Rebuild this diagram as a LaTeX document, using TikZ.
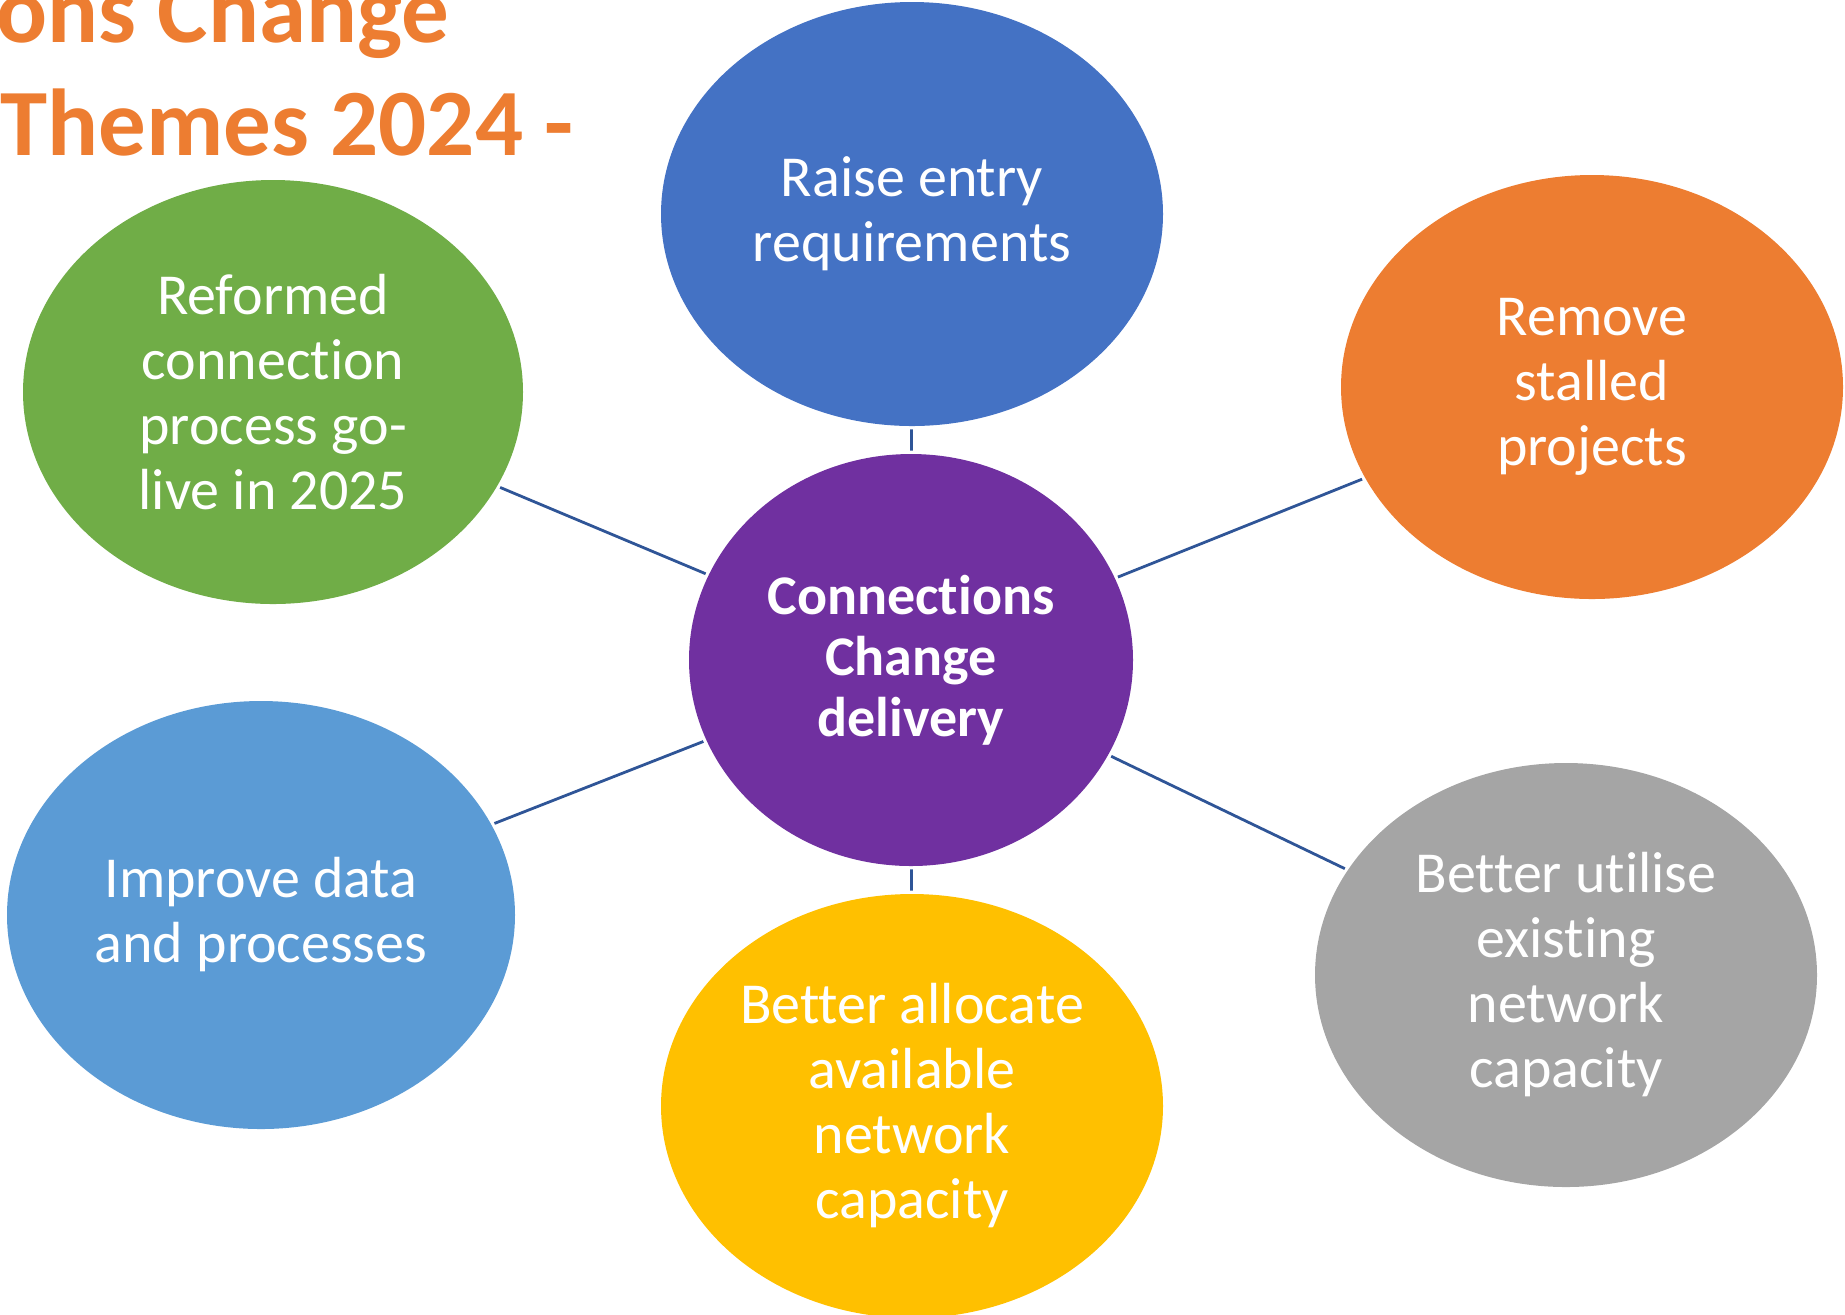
\documentclass[tikz,border=0pt]{standalone}
\usepackage{fontspec}
\setmainfont{Carlito}[Ligatures=NoCommon]
\usetikzlibrary{shapes.geometric}
\definecolor{accent}{HTML}{ED7D31}
\definecolor{hubpurple}{HTML}{7030A0}
\definecolor{darkblue}{HTML}{4472C4}
\definecolor{lightblue}{HTML}{5B9BD5}
\definecolor{leafgreen}{HTML}{70AD47}
\definecolor{amber}{HTML}{FFC000}
\definecolor{midgray}{HTML}{A5A5A5}
\definecolor{linkblue}{HTML}{2F5597}

\begin{document}
\begin{tikzpicture}[x=0.5pt,y=-0.5pt,
  theme/.style={ellipse,minimum width=251pt,minimum height=212pt,inner sep=0pt,
    text=white,align=center,font=\fontsize{29}{32.5}\selectfont},
  hub/.style={theme,minimum width=222pt,minimum height=206pt,
    font=\bfseries\fontsize{28}{30.5}\selectfont},
  link/.style={draw=linkblue,line width=1.4pt,shorten <=1.5pt,shorten >=1.5pt}]
 \useasboundingbox (0,0) rectangle (1845,1314);
 \clip (0,0) rectangle (1845,1314);
 % heading, runs off the page at the top left
 \node[anchor=base west,inner sep=0pt,text=accent,font=\bfseries\fontsize{47.5}{57}\selectfont] (head1) at (-4,42) {ons Change};
 \node[anchor=base west,inner sep=0pt,text=accent,font=\bfseries\fontsize{47.5}{57}\selectfont] (head2) at (0,155) {Themes 2024 -};
 % centre and the six themes
 \node[hub,fill=hubpurple] (hub) at (911,660) {Connections\\Change\\delivery};
 \node[theme,fill=darkblue] (entry) at (912,214) {Raise entry\\requirements};
 \node[theme,fill=leafgreen,minimum width=250pt] (reform) at (273,392) {Reformed\\connection\\process go-\\live in 2025};
 \node[theme,fill=accent] (stalled) at (1592,387) {Remove\\stalled\\projects};
 \node[theme,fill=lightblue,minimum width=254pt,minimum height=214pt] (data) at (261,915) {Improve data\\and processes};
 \node[theme,fill=amber] (allocate) at (912,1106) {Better allocate\\available\\network\\capacity};
 \node[theme,fill=midgray] (utilise) at (1566,975) {Better utilise\\existing\\network\\capacity};
 \foreach \n in {entry,reform,stalled,data,allocate,utilise}
  \draw[link] (hub) -- (\n);
\end{tikzpicture}
\end{document}
